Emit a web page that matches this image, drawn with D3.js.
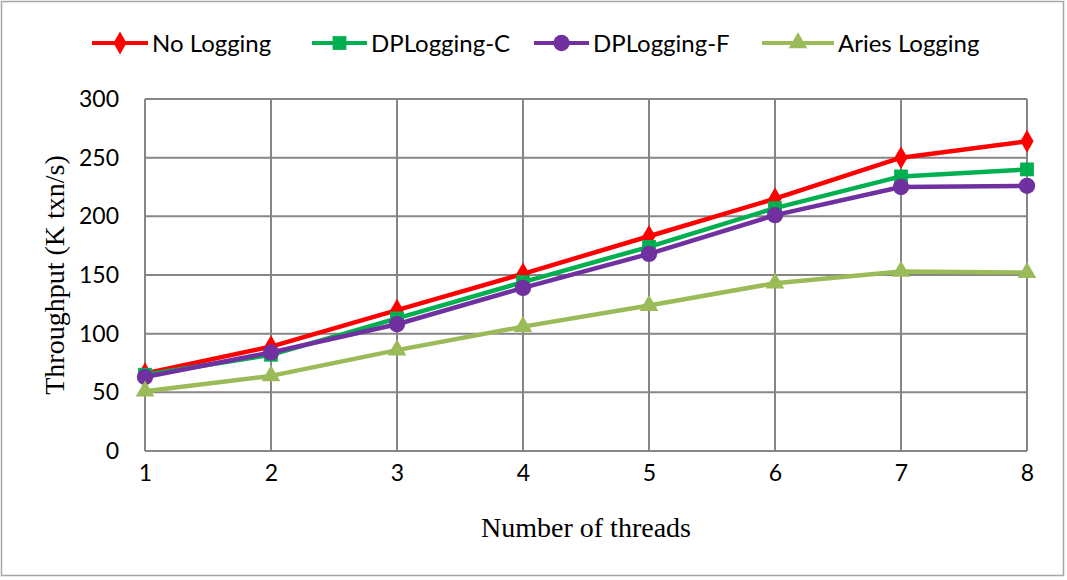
<!DOCTYPE html>
<html lang="en">
<head>
    <meta charset="UTF-8">
    <title>Throughput vs threads</title>
    <script src="https://d3js.org/d3.v7.min.js"></script>
    <style>
        body { margin: 0; background: #fff; }
        svg { display: block; }
        .tick text { font-family: Lato, "Open Sans", sans-serif; font-size: 23px; fill: #000; }
        .legend text { font-family: Lato, "Open Sans", sans-serif; font-size: 24px; fill: #000; }
        .axis-title { font-family: "Liberation Serif", "DejaVu Serif", serif; font-size: 28px; fill: #000; }
    </style>
</head>
<body>
    <svg width="1067" height="580"></svg>
    <script>
        // chart data
        const threads = [1, 2, 3, 4, 5, 6, 7, 8];
        const noLogging = [66, 89, 120, 151, 183, 215, 250, 264];
        const dpLoggingC = [65, 82, 113, 144, 174, 207, 234, 240];
        const dpLoggingF = [63, 84, 108, 139, 168, 201, 225, 226];
        const ariesLogging = [51, 64, 86, 106, 124, 143, 153, 152];
        const yTicks = [0, 50, 100, 150, 200, 250, 300];

        const series = [
            { name: "No Logging", values: noLogging, color: "#ff0000", symbol: d3.symbolDiamond, size: 150, legendX: 92, legendW: 56 },
            { name: "DPLogging-C", values: dpLoggingC, color: "#00b050", symbol: d3.symbolSquare, size: 190, legendX: 312, legendW: 55 },
            { name: "DPLogging-F", values: dpLoggingF, color: "#7030a0", symbol: d3.symbolCircle, size: 210, legendX: 534, legendW: 55 },
            { name: "Aries Logging", values: ariesLogging, color: "#9bbb59", symbol: d3.symbolTriangle, size: 150, legendX: 762, legendW: 72 }
        ];

        const svg = d3.select("svg");
        const margin = { left: 145, right: 1027, top: 99, bottom: 451 };

        // outer frame
        svg.append("rect")
            .attr("x", 1.5).attr("y", 1.5)
            .attr("width", 1062).attr("height", 574)
            .attr("fill", "none").attr("stroke", "#a6a6a6").attr("stroke-width", 1.5);

        const x = d3.scaleLinear().domain([1, 8]).range([margin.left, margin.right]);
        const y = d3.scaleLinear().domain([0, 300]).range([margin.bottom, margin.top]);

        const grid = svg.append("g");
        grid.selectAll("line.h")
            .data(yTicks)
            .enter().append("line")
            .attr("x1", margin.left).attr("x2", margin.right)
            .attr("y1", d => y(d)).attr("y2", d => y(d))
            .attr("stroke", "#868686").attr("stroke-width", 2);
        grid.selectAll("line.v")
            .data(threads)
            .enter().append("line")
            .attr("y1", margin.top).attr("y2", margin.bottom)
            .attr("x1", d => x(d)).attr("x2", d => x(d))
            .attr("stroke", "#868686").attr("stroke-width", 2);

        // axes (labels only)
        const yAxis = svg.append("g")
            .attr("transform", `translate(${margin.left},0)`)
            .call(d3.axisLeft(y).tickValues(yTicks).tickSize(0).tickPadding(26));
        yAxis.select(".domain").remove();

        const xAxis = svg.append("g")
            .attr("transform", `translate(0,${margin.bottom})`)
            .call(d3.axisBottom(x).tickValues(threads).tickSize(0).tickPadding(14).tickFormat(d3.format("d")));
        xAxis.select(".domain").remove();

        svg.append("text")
            .attr("class", "axis-title")
            .attr("x", 586)
            .attr("y", 537)
            .attr("text-anchor", "middle")
            .text("Number of threads");

        svg.append("text")
            .attr("class", "axis-title")
            .attr("transform", `translate(64,${(margin.top + margin.bottom) / 2}) rotate(-90)`)
            .attr("text-anchor", "middle")
            .text("Throughput (K txn/s)");

        // lines and markers
        const line = d3.line()
            .x((d, i) => x(threads[i]))
            .y(d => y(d));

        series.forEach(s => {
            svg.append("path")
                .datum(s.values)
                .attr("d", line)
                .attr("fill", "none")
                .attr("stroke", s.color)
                .attr("stroke-width", 4.5)
                .attr("stroke-linejoin", "round");

            svg.append("g").selectAll("path")
                .data(s.values)
                .enter().append("path")
                .attr("transform", (d, i) => `translate(${x(threads[i])},${y(d)})`)
                .attr("d", d3.symbol().type(s.symbol).size(s.size))
                .attr("fill", s.color);
        });

        // legend
        const legend = svg.append("g").attr("class", "legend");
        series.forEach(s => {
            const g = legend.append("g");
            g.append("line")
                .attr("x1", s.legendX).attr("x2", s.legendX + s.legendW)
                .attr("y1", 43).attr("y2", 43)
                .attr("stroke", s.color).attr("stroke-width", 4);
            g.append("path")
                .attr("transform", `translate(${s.legendX + s.legendW / 2},43)`)
                .attr("d", d3.symbol().type(s.symbol).size(s.size))
                .attr("fill", s.color);
            g.append("text")
                .attr("x", s.legendX + s.legendW + 4)
                .attr("y", 52)
                .text(s.name);
        });
    </script>
</body>
</html>
